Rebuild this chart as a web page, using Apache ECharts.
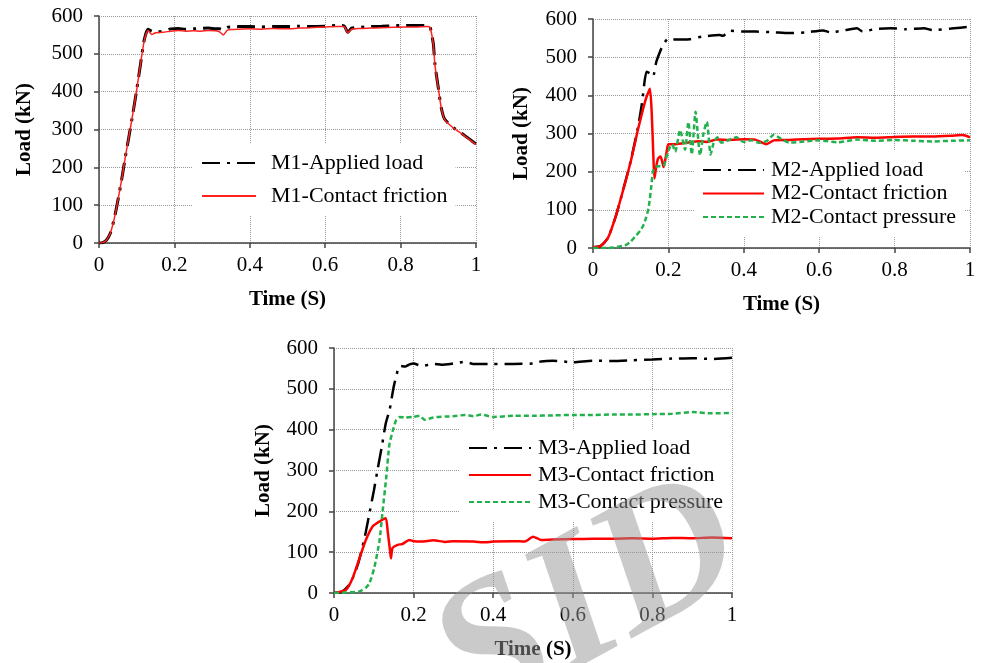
<!DOCTYPE html>
<html>
<head>
<meta charset="utf-8">
<script src="https://cdn.jsdelivr.net/npm/echarts@6/dist/echarts.min.js"></script>
<style>
  html, body { margin: 0; padding: 0; background: #fff; }
  #main { width: 983px; height: 663px; }
</style>
</head>
<body>
<div id="main"></div>
<script>
// M1
const m1Time = [0, 0.01, 0.02, 0.03, 0.04, 0.05, 0.06, 0.07, 0.08, 0.09, 0.10, 0.11, 0.12, 0.13, 0.14, 0.15, 0.17, 0.19, 0.21, 0.23, 0.25, 0.27, 0.29, 0.31, 0.32, 0.33, 0.34, 0.35, 0.37, 0.40, 0.43, 0.46, 0.50, 0.53, 0.56, 0.60, 0.63, 0.65, 0.66, 0.67, 0.69, 0.72, 0.75, 0.78, 0.81, 0.84, 0.87, 0.878, 0.887, 0.891, 0.90, 0.908, 0.917, 0.94, 0.966, 0.99, 1.0]
const m1Applied = [0, 1, 8, 26, 62, 112, 167, 228, 285, 343, 405, 472, 537, 565, 560, 558, 560, 566, 567, 565, 566, 567, 568, 566, 566, 563, 570, 571, 572, 572, 571, 572, 572, 573, 572, 573, 575, 574, 557, 568, 570, 572, 573, 574, 575, 575, 575, 572, 525, 473, 410, 357, 327, 305, 287, 269, 262]
const m1Friction = [0, 1, 8, 26, 62, 112, 167, 228, 285, 343, 405, 472, 535, 562, 551, 556, 557, 560, 562, 560, 561, 560, 562, 561, 558, 550, 562, 564, 565, 566, 565, 567, 566, 568, 569, 571, 572, 572, 556, 565, 567, 568, 569, 570, 571, 571, 572, 570, 523, 471, 409, 356, 326, 304, 286, 268, 260]

// M2
const m2AppliedTime = [0, 0.02, 0.04, 0.06, 0.08, 0.10, 0.12, 0.13, 0.142, 0.15, 0.159, 0.168, 0.178, 0.186, 0.20, 0.22, 0.256, 0.29, 0.336, 0.345, 0.362, 0.40, 0.433, 0.48, 0.52, 0.565, 0.61, 0.63, 0.66, 0.70, 0.715, 0.75, 0.79, 0.83, 0.878, 0.90, 0.95, 1.0]
const m2Applied = [2, 5, 27, 82, 152, 228, 320, 380, 462, 458, 449, 488, 515, 532, 549, 546, 547, 554, 558, 556, 569, 567, 567, 565, 563, 565, 570, 565, 569, 576, 567, 574, 576, 573, 576, 571, 575, 580]
const m2FrictionTime = [0, 0.02, 0.04, 0.06, 0.08, 0.10, 0.12, 0.14, 0.151, 0.156, 0.16, 0.163, 0.168, 0.173, 0.179, 0.184, 0.187, 0.19, 0.195, 0.20, 0.22, 0.25, 0.28, 0.30, 0.33, 0.36, 0.40, 0.43, 0.46, 0.48, 0.52, 0.56, 0.60, 0.65, 0.70, 0.75, 0.80, 0.85, 0.90, 0.95, 0.98, 1.0]
const m2Friction = [2, 5, 27, 82, 152, 226, 313, 390, 417, 348, 243, 182, 215, 235, 240, 225, 212, 222, 250, 272, 272, 276, 280, 278, 284, 283, 285, 284, 272, 282, 283, 285, 286, 287, 290, 289, 291, 292, 292, 294, 296, 290]
const m2PressureTime = [0, 0.04, 0.085, 0.10, 0.111, 0.125, 0.134, 0.141, 0.147, 0.151, 0.154, 0.159, 0.165, 0.173, 0.187, 0.196, 0.204, 0.21, 0.218, 0.231, 0.244, 0.253, 0.262, 0.272, 0.284, 0.293, 0.302, 0.312, 0.32, 0.33, 0.34, 0.36, 0.38, 0.40, 0.42, 0.44, 0.46, 0.48, 0.50, 0.52, 0.56, 0.60, 0.65, 0.70, 0.75, 0.80, 0.85, 0.90, 0.95, 1.0]
const m2Pressure = [0, 0, 7, 17, 29, 45, 60, 80, 103, 130, 156, 200, 212, 214, 215, 243, 264, 272, 252, 309, 258, 330, 245, 357, 243, 300, 331, 245, 275, 290, 276, 283, 290, 278, 282, 276, 280, 297, 285, 276, 279, 282, 277, 284, 281, 283, 281, 279, 281, 282]

// M3
const m3AppliedTime = [0, 0.02, 0.04, 0.06, 0.072, 0.08, 0.09, 0.10, 0.11, 0.12, 0.13, 0.14, 0.15, 0.16, 0.165, 0.18, 0.19, 0.20, 0.22, 0.25, 0.27, 0.30, 0.33, 0.35, 0.40, 0.45, 0.50, 0.52, 0.55, 0.60, 0.65, 0.70, 0.75, 0.80, 0.85, 0.90, 0.95, 1.0]
const m3Applied = [0, 3, 22, 70, 115, 150, 200, 250, 305, 358, 415, 450, 505, 545, 556, 555, 560, 562, 556, 561, 559, 562, 566, 561, 561, 561, 562, 567, 569, 565, 569, 568, 570, 572, 574, 575, 573, 576]
const m3FrictionTime = [0, 0.03, 0.047, 0.064, 0.08, 0.097, 0.114, 0.13, 0.135, 0.141, 0.143, 0.147, 0.16, 0.172, 0.18, 0.189, 0.20, 0.22, 0.25, 0.28, 0.30, 0.35, 0.38, 0.40, 0.45, 0.48, 0.50, 0.52, 0.55, 0.60, 0.65, 0.70, 0.75, 0.80, 0.85, 0.90, 0.95, 1.0]
const m3Friction = [0, 8, 37, 85, 130, 163, 175, 183, 150, 102, 85, 110, 118, 120, 125, 130, 127, 126, 129, 125, 127, 126, 124, 126, 127, 126, 138, 130, 131, 132, 133, 133, 134, 133, 135, 134, 136, 134]
const m3PressureTime = [0, 0.03, 0.064, 0.08, 0.089, 0.101, 0.114, 0.122, 0.131, 0.139, 0.147, 0.156, 0.165, 0.18, 0.198, 0.215, 0.228, 0.25, 0.28, 0.30, 0.33, 0.35, 0.37, 0.40, 0.45, 0.50, 0.55, 0.60, 0.65, 0.70, 0.75, 0.80, 0.85, 0.90, 0.95, 1.0]
const m3Pressure = [0, 1, 4, 13, 24, 61, 126, 199, 281, 362, 395, 423, 431, 430, 431, 434, 424, 430, 432, 433, 436, 433, 437, 431, 434, 434, 435, 436, 436, 437, 437, 438, 439, 443, 440, 441]

const yTicks = { min: 0, max: 600, interval: 100 }
const xTicks = { min: 0, max: 1, interval: 0.2 }

const FONT = 'Liberation Serif'
const BLACK_DASH = [18, 7, 3, 7]
const GREEN_DASH = [5, 3]

const pair = (t, v) => t.map((x, i) => [x, v[i]])

function xAxisOf(idx) {
    return {
        type: 'value', gridIndex: idx, ...xTicks,
        name: 'Time (S)', nameLocation: 'middle', nameGap: 46,
        nameTextStyle: { fontFamily: FONT, fontSize: 21, fontWeight: 'bold', color: '#000' },
        axisLine: { lineStyle: { color: '#444', width: 1.5 } },
        axisTick: { show: true, length: 5, lineStyle: { color: '#444', width: 1.5 } },
        axisLabel: { fontFamily: FONT, fontSize: 21, color: '#000', margin: 12 },
        splitLine: { show: true, lineStyle: { type: 'dotted', color: '#999', width: 1 } }
    }
}
function yAxisOf(idx, gap) {
    return {
        type: 'value', gridIndex: idx, ...yTicks,
        name: 'Load (kN)', nameLocation: 'middle', nameGap: gap,
        nameTextStyle: { fontFamily: FONT, fontSize: 21, fontWeight: 'bold', color: '#000' },
        axisLine: { show: true, lineStyle: { color: '#444', width: 1.5 } },
        axisTick: { show: true, length: 5, lineStyle: { color: '#444', width: 1.5 } },
        axisLabel: { fontFamily: FONT, fontSize: 21, color: '#000', margin: 16 },
        splitLine: { show: true, lineStyle: { type: 'dotted', color: '#999', width: 1 } }
    }
}
function legendOf(names, left, top, itemWidth, gap, textPad) {
    return {
        orient: 'vertical', left: left, top: top, padding: 8,
        backgroundColor: '#fff', itemWidth: itemWidth, itemHeight: 14, itemGap: gap,
        selectedMode: false,
        itemStyle: { opacity: 0 },
        textStyle: { fontFamily: FONT, fontSize: 22, color: '#000', lineHeight: 22, padding: [0, 0, 0, textPad] },
        data: names
    }
}
function line(name, idx, data, color, width, type, z) {
    return {
        name: name, type: 'line', xAxisIndex: idx, yAxisIndex: idx,
        data: data, symbol: 'circle', showSymbol: false, smooth: 0.2,
        lineStyle: { color: color, width: width, type: type },
        itemStyle: { color: color },
        z: z
    }
}

const chart = echarts.init(document.getElementById('main'))
chart.setOption({
    animation: false,
    backgroundColor: '#fff',
    grid: [
        { left: 99, top: 16, width: 377, height: 227 },
        { left: 593, top: 19, width: 377, height: 229 },
        { left: 334, top: 348, width: 398, height: 245 }
    ],
    xAxis: [xAxisOf(0), xAxisOf(1), xAxisOf(2)],
    yAxis: [yAxisOf(0, 64), yAxisOf(1, 61), yAxisOf(2, 60)],
    legend: [
        legendOf(['M1-Applied load', 'M1-Contact friction'], 193, 144, 54, 11, 10),
        legendOf(['M2-Applied load', 'M2-Contact friction', 'M2-Contact pressure'], 694, 151, 61, 1.5, 2),
        legendOf(['M3-Applied load', 'M3-Contact friction', 'M3-Contact pressure'], 460, 429, 62, 5, 2)
    ],
    series: [
        line('M1-Applied load', 0, pair(m1Time, m1Applied), '#000', 3, BLACK_DASH, 2),
        line('M1-Contact friction', 0, pair(m1Time, m1Friction), '#ff2020', 1.5, 'solid', 3),
        line('M2-Applied load', 1, pair(m2AppliedTime, m2Applied), '#000', 2.5, BLACK_DASH, 2),
        line('M2-Contact friction', 1, pair(m2FrictionTime, m2Friction), '#ff0000', 2.5, 'solid', 3),
        line('M2-Contact pressure', 1, pair(m2PressureTime, m2Pressure), '#22b14c', 2.5, GREEN_DASH, 4),
        line('M3-Applied load', 2, pair(m3AppliedTime, m3Applied), '#000', 2.5, BLACK_DASH, 2),
        line('M3-Contact friction', 2, pair(m3FrictionTime, m3Friction), '#ff0000', 2.5, 'solid', 3),
        line('M3-Contact pressure', 2, pair(m3PressureTime, m3Pressure), '#22b14c', 2.5, GREEN_DASH, 4)
    ],
    graphic: [{
        // SID watermark
        type: 'text', x: 590, y: 605, rotation: 0.5, z: 100,
        style: {
            text: 'SID', font: 'italic bold 190px "Liberation Serif"',
            fill: 'rgba(150,150,150,0.5)', align: 'center', verticalAlign: 'middle'
        }
    }]
})
</script>
</body>
</html>
